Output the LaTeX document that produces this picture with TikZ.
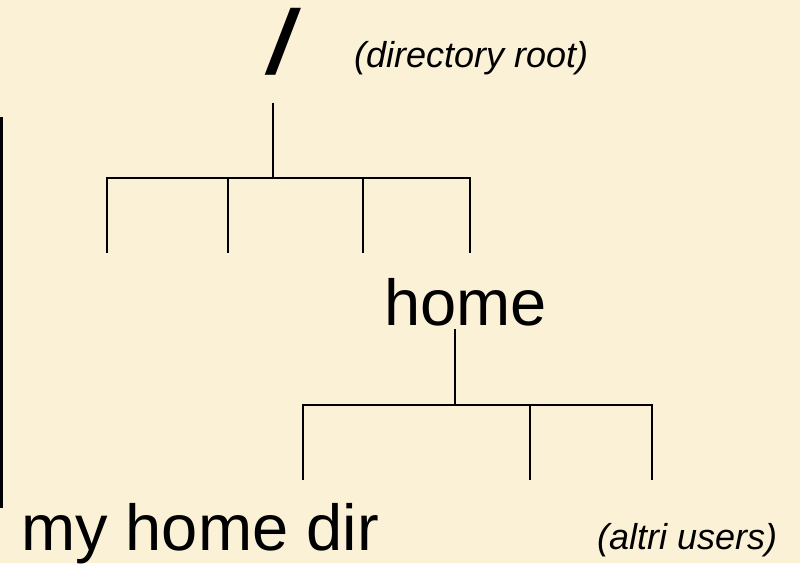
\documentclass[tikz,border=0pt]{standalone}
\usepackage{fontspec}
\setmainfont{Liberation Sans}
\definecolor{parchment}{RGB}{251,241,215}
\begin{document}
\begin{tikzpicture}
          [x=1pt,y=-1pt,
          dir/.style={font=\fontsize{65}{70}\selectfont,inner sep=0pt,anchor=base west},
          note/.style={font=\fontsize{36}{40}\selectfont\itshape,inner sep=0pt,anchor=base west},
          branch/.style={line width=1.5pt},
          bar/.style={line width=3pt}]

          \fill[parchment] (0,0) rectangle (800,563);

            \node (root) [font=\fontsize{90}{94}\selectfont\bfseries\itshape,inner sep=0pt] at (281,42) {/};
            \node (rootnote) [note] at (354,68) {(directory root)};
            \node (home) [dir] at (384,325) {home};
            \node (mydir) [dir] at (21,550) {my home dir};
            \node (others) [note] at (597,549) {(altri users)};

          \coordinate (R0) at (273,103);
          \coordinate (R) at (273,178);
          \coordinate (A1) at (107,253);
          \coordinate (A2) at (228,253);
          \coordinate (A3) at (363,253);
          \coordinate (A4) at (470,253);
          \coordinate (H0) at (455,329);
          \coordinate (H) at (455,405);
          \coordinate (B1) at (303,480);
          \coordinate (B2) at (530,480);
          \coordinate (B3) at (652,480);
          \coordinate (T) at (1.5,117);
          \coordinate (U) at (1.5,508);

          \draw [branch] (R0) -- (R);
          \draw [branch] (A1) -- (A1 |- R) -- (A4 |- R) -- (A4);
          \draw [branch] (A2) -- (A2 |- R);
          \draw [branch] (A3) -- (A3 |- R);
          \draw [branch] (H0) -- (H);
          \draw [branch] (B1) -- (B1 |- H) -- (B3 |- H) -- (B3);
          \draw [branch] (B2) -- (B2 |- H);
          \draw [bar] (T) -- (U);

        \end{tikzpicture}
\end{document}
